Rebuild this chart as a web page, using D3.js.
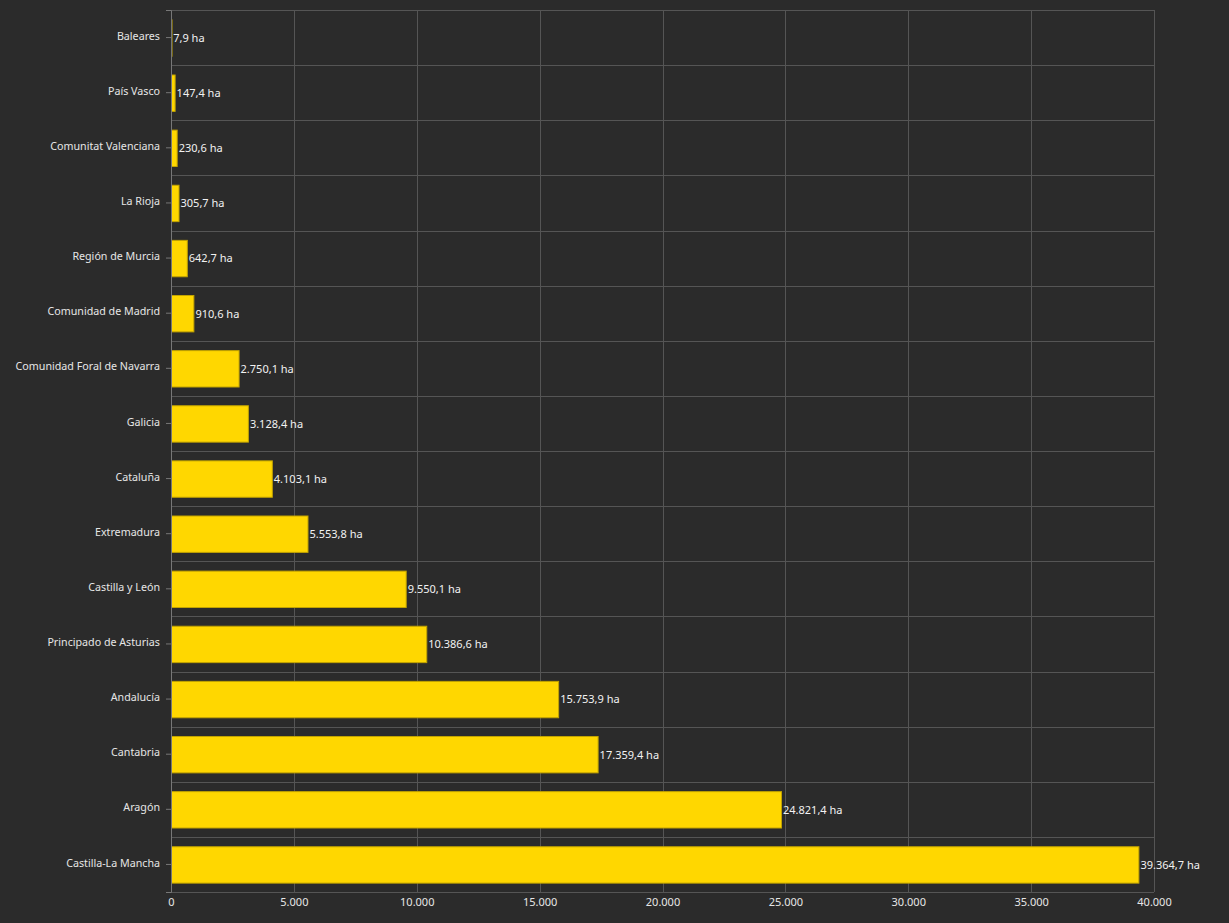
<!DOCTYPE html>
<html>
<head>
<meta charset="utf-8">
<script src="https://cdn.jsdelivr.net/npm/d3@7"></script>
<style>
  html, body { margin: 0; padding: 0; background: #2b2b2b; }
  svg text { font-family: "Noto Sans", "Open Sans", sans-serif; }
</style>
</head>
<body>
<svg id="barChart"></svg>
<script>
// regions, top to bottom
var regions = ["Baleares", "País Vasco", "Comunitat Valenciana", "La Rioja", "Región de Murcia",
    "Comunidad de Madrid", "Comunidad Foral de Navarra", "Galicia", "Cataluña", "Extremadura",
    "Castilla y León", "Principado de Asturias", "Andalucía", "Cantabria", "Aragón", "Castilla-La Mancha"]
var hectares = [7.9, 147.4, 230.6, 305.7, 642.7, 910.6, 2750.1, 3128.4, 4103.1, 5553.8,
    9550.1, 10386.6, 15753.9, 17359.4, 24821.4, 39364.7]
var xTicks = [0, 5000, 10000, 15000, 20000, 25000, 30000, 35000, 40000]

function getBarChart() {
    let width = 1229, height = 923;
    var margin = { top: 10, right: 75, bottom: 31, left: 171 },
        margin_width = width - margin.left - margin.right,
        margin_height = height - margin.top - margin.bottom;

    var es = d3.formatLocale({ decimal: ",", thousands: ".", grouping: [3], currency: ["", " €"] })
    var fmtTick = es.format(",")
    var fmtVal = es.format(",.1f")

    var data = regions.map((r, i) => ({ region: r, value: hectares[i] }))

    var svg = d3.select("#barChart")
        .attr("width", width)
        .attr("height", height)
        .attr("viewBox", [0, 0, width, height])

    var xScale = d3.scaleLinear()
        .domain([0, 40000])
        .range([margin.left, margin.left + margin_width]);
    var yScale = d3.scaleBand()
        .domain(regions)
        .range([margin.top, margin.top + margin_height])
        .paddingInner(0.34)
        .paddingOuter(0.17);

    // grid: vertical at ticks, horizontal at band edges
    var grid = svg.append("g").attr("stroke", "#555555").attr("stroke-width", 1)
    grid.selectAll("line.v")
        .data(xTicks)
        .enter()
        .append("line")
        .attr("class", "v")
        .attr("x1", d => Math.round(xScale(d)) + 0.5)
        .attr("x2", d => Math.round(xScale(d)) + 0.5)
        .attr("y1", margin.top)
        .attr("y2", margin.top + margin_height);
    var step = margin_height / regions.length
    grid.selectAll("line.h")
        .data(d3.range(regions.length + 1))
        .enter()
        .append("line")
        .attr("class", "h")
        .attr("x1", margin.left)
        .attr("x2", margin.left + margin_width)
        .attr("y1", d => Math.round(margin.top + d * step) + 0.5)
        .attr("y2", d => Math.round(margin.top + d * step) + 0.5);

    // bars
    svg.selectAll("rect.bar")
        .data(data)
        .enter()
        .append("rect")
        .attr("class", "bar")
        .attr("x", xScale(0) + 0.5)
        .attr("y", d => yScale(d.region) + 0.5)
        .attr("width", d => Math.max(0.5, xScale(d.value) - xScale(0)))
        .attr("height", yScale.bandwidth())
        .attr("fill", "#FFD700")
        .attr("stroke", "#c2a300")
        .attr("stroke-width", 1);

    // value labels
    svg.selectAll("text.val")
        .data(data)
        .enter()
        .append("text")
        .attr("class", "val")
        .attr("x", d => xScale(d.value) + 2)
        .attr("y", d => yScale(d.region) + yScale.bandwidth() / 2)
        .attr("dy", "0.4em")
        .attr("fill", "#f2f2f2")
        .style("font-size", "11px")
        .text(d => fmtVal(d.value) + " ha");

    // y axis
    var yAxis = svg.append("g")
        .attr("transform", "translate(" + margin.left + ",0)")
        .call(d3.axisLeft(yScale).tickSize(5).tickPadding(6));
    yAxis.select(".domain").attr("stroke", "#777777");
    yAxis.selectAll(".tick line").attr("stroke", "#777777");
    yAxis.selectAll(".tick text").attr("fill", "#e6e6e6").style("font-size", "10.7px").attr("dy", "0.2em");

    // x axis
    var xAxis = svg.append("g")
        .attr("transform", "translate(0," + (margin.top + margin_height) + ")")
        .call(d3.axisBottom(xScale).tickValues(xTicks).tickFormat(fmtTick).tickSize(0).tickPadding(6));
    xAxis.select(".domain").remove();
    xAxis.selectAll(".tick text").attr("fill", "#e6e6e6").style("font-size", "11px");
}
getBarChart();
</script>
</body>
</html>
